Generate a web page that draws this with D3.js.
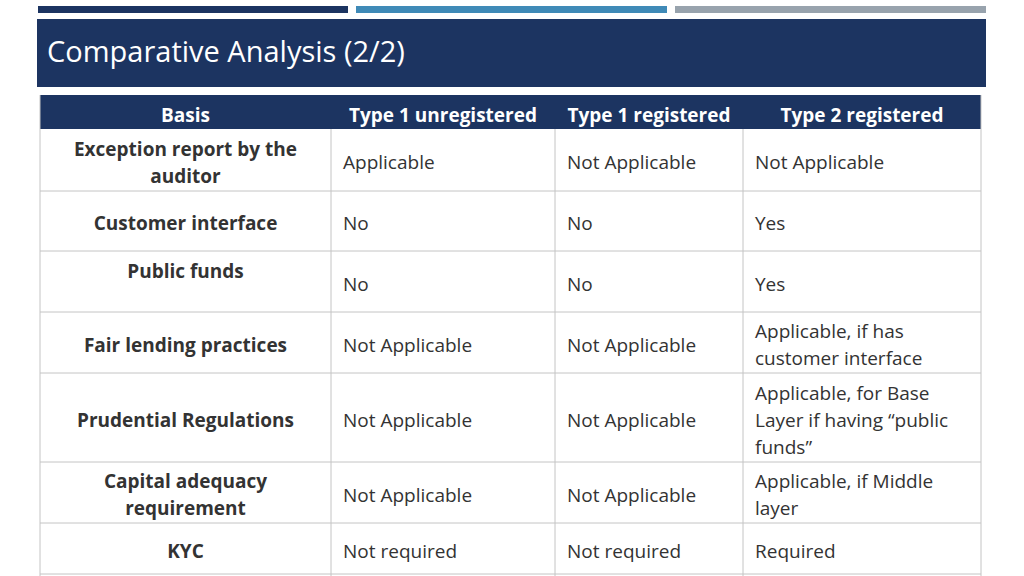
<!DOCTYPE html>
<html><head><meta charset="utf-8">
<script src="https://cdn.jsdelivr.net/npm/d3@7"></script>
<style>body{margin:0;background:#fff;}svg{display:block;font-family:"Open Sans","Noto Sans",sans-serif;}</style>
</head><body>
<svg id="slide" width="1024" height="576"></svg>
<script>
const title = "Comparative Analysis (2/2)";
const columns = ["Basis", "Type 1 unregistered", "Type 1 registered", "Type 2 registered"];
const basis = [
  ["Exception report by the", "auditor"],
  ["Customer interface"],
  ["Public funds"],
  ["Fair lending practices"],
  ["Prudential Regulations"],
  ["Capital adequacy", "requirement"],
  ["KYC"]
];
const type1Unreg = [["Applicable"], ["No"], ["No"], ["Not Applicable"], ["Not Applicable"], ["Not Applicable"], ["Not required"]];
const type1Reg = [["Not Applicable"], ["No"], ["No"], ["Not Applicable"], ["Not Applicable"], ["Not Applicable"], ["Not required"]];
const type2Reg = [
  ["Not Applicable"], ["Yes"], ["Yes"],
  ["Applicable, if has", "customer interface"],
  ["Applicable, for Base", "Layer if having \u201cpublic", "funds\u201d"],
  ["Applicable, if Middle", "layer"],
  ["Required"]
];

const svg = d3.select("#slide");
const navy = "#1c3461";

// top accent bars
const bars = [["#1c3461", 38, 348], ["#3f8ab7", 356, 667], ["#98a3ad", 675, 986]];
svg.selectAll(".accent").data(bars).enter().append("rect")
  .attr("x", d => d[1]).attr("y", 6).attr("width", d => d[2] - d[1]).attr("height", 7).attr("fill", d => d[0]);

svg.append("rect").attr("x", 37).attr("y", 19).attr("width", 949).attr("height", 68).attr("fill", navy);
svg.append("text").attr("x", 47).attr("y", 62).attr("fill", "#fff").attr("font-size", 29).text(title);

// table layout
const colX = [40, 331, 555, 743, 981];
const rowY = [95, 129, 191, 251, 312, 373, 462, 523, 574];
const lh = 27, fs = 19;

const g = svg.append("g");
g.append("rect").attr("x", colX[0]).attr("y", rowY[0]).attr("width", colX[4] - colX[0]).attr("height", rowY[1] - rowY[0]).attr("fill", navy);
g.selectAll(".hdr").data(columns).enter().append("text")
  .attr("x", (d, i) => (colX[i] + colX[i + 1]) / 2).attr("y", 115)
  .attr("text-anchor", "middle").attr("dominant-baseline", "central")
  .attr("fill", "#fff").attr("font-weight", "bold").attr("font-size", fs).text(d => d);

// grid
const gridColor = "#c4c4c4";
rowY.slice(2).forEach(y => g.append("line").attr("x1", colX[0]).attr("x2", colX[4]).attr("y1", y).attr("y2", y).attr("stroke", gridColor));
colX.forEach((x, i) => g.append("line").attr("x1", x).attr("x2", x).attr("y1", i === 0 || i === 4 ? rowY[0] : rowY[1]).attr("y2", 576).attr("stroke", gridColor));

const cols = [basis, type1Unreg, type1Reg, type2Reg];
cols.forEach((col, c) => {
  col.forEach((lines, r) => {
    let cy = (rowY[r + 1] + rowY[r + 2]) / 2 + 2;
    if (c === 0 && r === 2) cy -= 13;
    const t = g.append("text")
      .attr("x", c === 0 ? (colX[0] + colX[1]) / 2 : colX[c] + 12)
      .attr("text-anchor", c === 0 ? "middle" : "start")
      .attr("fill", "#333").attr("font-size", fs)
      .attr("font-weight", c === 0 ? "bold" : "normal");
    lines.forEach((s, i) => {
      t.append("tspan").attr("x", c === 0 ? (colX[0] + colX[1]) / 2 : colX[c] + 12)
        .attr("y", cy + (i - (lines.length - 1) / 2) * lh)
        .attr("dominant-baseline", "central").text(s);
    });
  });
});
</script>
</body></html>
